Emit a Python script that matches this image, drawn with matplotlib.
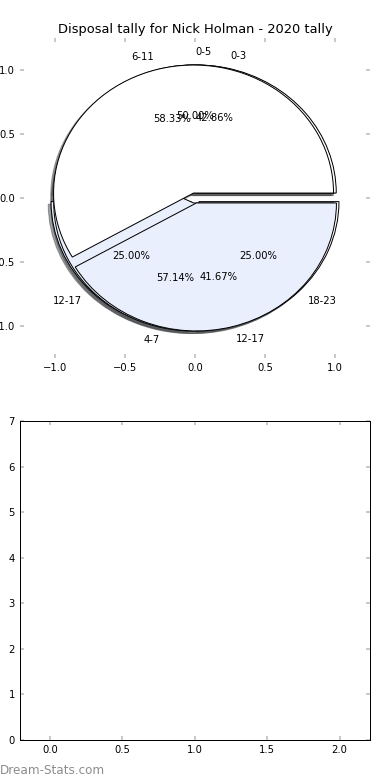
import matplotlib
matplotlib.use("Agg")
import matplotlib.pyplot as plt

# three disposal splits overlaid on one pie axes (drawn in this order)
labels_a = ["0-5", "12-17", "18-23"]
counts_a = [2, 1, 1]
labels_c = ["0-3", "4-7"]
counts_c = [3, 4]
labels_b = ["6-11", "12-17"]
counts_b = [7, 5]

pie_ticks = [-1.0, -0.5, 0.0, 0.5, 1.0]
bar_x_ticks = [0.0, 0.5, 1.0, 1.5, 2.0]
bar_y_ticks = [0, 1, 2, 3, 4, 5, 6, 7]

wedge_colors = ["white", "#e9effc"]
tick_grey = "#b8b8b8"

fig = plt.figure(figsize=(390 / 72, 780 / 72), dpi=72)
ax1 = fig.add_axes([0.0513, 0.541, 0.8974, 0.4103])
ax2 = fig.add_axes([0.0513, 0.0513, 0.8974, 0.409])

for counts, labels in [(counts_a, labels_a), (counts_c, labels_c), (counts_b, labels_b)]:
    wedges, texts, autotexts = ax1.pie(
        counts, labels=labels, autopct="%1.2f%%", shadow=True,
        explode=[0.04] * len(counts), colors=wedge_colors,
        wedgeprops={"edgecolor": "black", "linewidth": 1.0},
        textprops={"fontsize": 10})
    # label sitting straight above the centre starts at the centre line
    for t in texts:
        if abs(t.get_position()[0]) < 1e-6:
            t.set_ha("left")

ax1.set_aspect("auto")
ax1.set_xlim(-1.25, 1.25)
ax1.set_ylim(-1.25, 1.25)
ax1.set_xticks(pie_ticks)
ax1.set_yticks(pie_ticks)
ax1.set_title("Disposal tally for Nick Holman - 2020 tally", fontsize=13, pad=5)

ax2.set_xlim(-0.207, 2.21)
ax2.set_ylim(0, 7)
ax2.set_xticks(bar_x_ticks)
ax2.set_yticks(bar_y_ticks)
for sp in ax2.spines.values():
    sp.set_color("black")
    sp.set_linewidth(1)

for ax in (ax1, ax2):
    ax.tick_params(direction="in", top=True, right=True, color=tick_grey,
                   length=4, width=1.5, labelsize=10, pad=5)

fig.text(0.0, 0.0128, "Dream-Stats.com", fontsize=12, color="#8c8c8c",
         ha="left", va="center")

fig.savefig("out.png", dpi=72)
